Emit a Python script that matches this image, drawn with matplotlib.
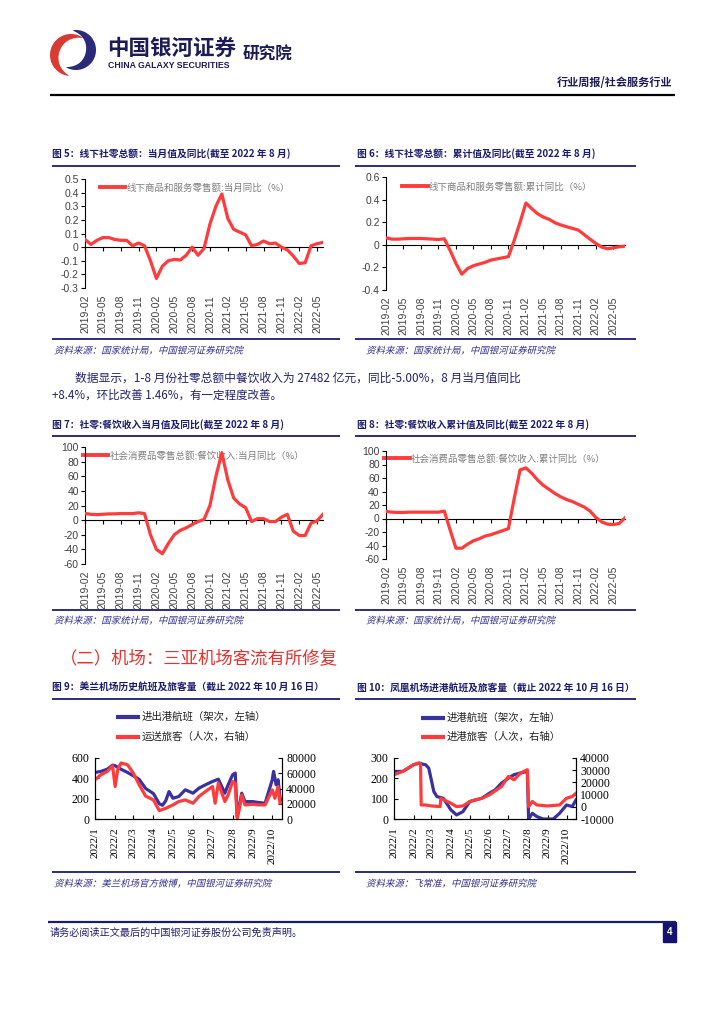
import matplotlib
matplotlib.use('Agg')
import matplotlib.pyplot as plt
import matplotlib.patches as pat
from matplotlib.textpath import TextPath
from matplotlib.font_manager import FontProperties
from matplotlib.transforms import Affine2D
import numpy as np
import pandas as pd

W, H = 724, 1024
RED = '#FF3B3B'
BLUE = '#3B309F'
NAVY = '#1C1C6E'
CAP_COLOR = '#2E2E8C'
GRAY = '#7F7F7F'
SANS = ['Liberation Sans', 'Noto Sans CJK SC']
SERIF = ['Liberation Serif', 'Noto Sans CJK SC']
CJK = ['Noto Sans CJK SC', 'DejaVu Sans']

plt.rcParams['font.family'] = SANS
plt.rcParams['axes.unicode_minus'] = False

# ---------------- data ----------------
# fig 5 / 7: monthly categories 2019-02 .. 2022-06, fig 6 / 8 one month longer
months_a = list(pd.period_range('2019-02', periods=41, freq='M').strftime('%Y-%m'))
months_b = list(pd.period_range('2019-02', periods=42, freq='M').strftime('%Y-%m'))

offline_month = [0.056, 0.02, 0.05, 0.07, 0.07, 0.056, 0.05, 0.05, 0.01, 0.03, 0.01,
                 -0.1, -0.23, -0.14, -0.1, -0.09, -0.095, -0.06, 0.0, -0.06, -0.01,
                 0.17, 0.3, 0.39, 0.21, 0.13, 0.11, 0.09, 0.01, 0.02, 0.045, 0.025,
                 0.03, 0.0, -0.02, -0.065, -0.12, -0.115, 0.01, 0.025, 0.035]
offline_cum = [0.062, 0.05, 0.05, 0.053, 0.056, 0.056, 0.056, 0.053, 0.05, 0.047, 0.053,
               -0.05, -0.165, -0.26, -0.21, -0.185, -0.17, -0.155, -0.135, -0.125, -0.115,
               -0.105, 0.04, 0.2, 0.37, 0.32, 0.275, 0.245, 0.225, 0.195, 0.175, 0.16,
               0.145, 0.13, 0.09, 0.05, 0.012, -0.02, -0.035, -0.027, -0.018, -0.012]
catering_month = [9, 8, 7.5, 8, 8.5, 8.6, 9, 9, 9, 10, 9, -20, -40, -46, -32, -20, -14,
                  -10.5, -6, -2, 1, 20, 60, 92, 55, 30, 22, 17, -2, 2, 2, -2, -2, 4, 8,
                  -15, -21, -21, -4, -1, 8]
catering_cum = [10.4, 9.4, 9, 9, 9.4, 9.4, 9.4, 9.4, 9.4, 9.4, 11, -17, -44, -44, -38,
                -33, -30, -26, -24, -21, -18, -15, 30, 72, 75, 67, 57, 49, 43, 37, 32,
                28, 25, 21, 17, 11, 1.5, -5, -8.4, -9, -7.4, 1]

# fig 9: Meilan airport
meilan_flight_dates = ['2022-01-01', '2022-01-10', '2022-01-20', '2022-01-28', '2022-02-01',
                       '2022-02-10', '2022-02-20', '2022-03-01', '2022-03-10', '2022-03-20',
                       '2022-04-01', '2022-04-10', '2022-04-15', '2022-04-20', '2022-04-25',
                       '2022-05-01', '2022-05-10', '2022-05-20', '2022-06-01', '2022-06-10',
                       '2022-06-20', '2022-07-01', '2022-07-10', '2022-07-20', '2022-07-25',
                       '2022-08-01', '2022-08-05', '2022-08-08', '2022-08-15', '2022-08-20',
                       '2022-09-01', '2022-09-10', '2022-09-20', '2022-10-01', '2022-10-03',
                       '2022-10-07', '2022-10-10', '2022-10-13', '2022-10-16']
meilan_flights = [458, 468, 490, 530, 524, 490, 458, 425, 390, 300, 250, 150, 135, 180, 270,
                  204, 221, 287, 254, 303, 336, 369, 392, 254, 336, 435, 452, 23, 254, 171,
                  171, 162, 155, 386, 468, 336, 386, 204, 188]
meilan_pax_dates = ['2022-01-01', '2022-01-10', '2022-01-20', '2022-01-28', '2022-02-01',
                    '2022-02-05', '2022-02-10', '2022-02-20', '2022-03-01', '2022-03-10',
                    '2022-03-20', '2022-04-01', '2022-04-10', '2022-04-20', '2022-05-01',
                    '2022-05-10', '2022-05-20', '2022-06-01', '2022-06-10', '2022-06-20',
                    '2022-07-01', '2022-07-05', '2022-07-10', '2022-07-20', '2022-07-25',
                    '2022-08-01', '2022-08-05', '2022-08-08', '2022-08-12', '2022-08-15',
                    '2022-08-20', '2022-09-01', '2022-09-10', '2022-09-20', '2022-10-01',
                    '2022-10-05', '2022-10-10', '2022-10-13', '2022-10-16']
meilan_pax = [51400, 58000, 62400, 69900, 42600, 64600, 73400, 71200, 60200, 45000, 30000,
              25000, 11000, 14000, 18500, 22900, 25000, 20700, 29500, 36000, 42600, 20700,
              47000, 22900, 31600, 49200, 47000, 0, 16300, 31600, 18500, 19300, 18500,
              18500, 38200, 27200, 42600, 20700, 21500]

# fig 10: Phoenix airport
fh_flight_dates = ['2022-01-01', '2022-01-15', '2022-02-01', '2022-02-10', '2022-02-15',
                   '2022-02-20', '2022-02-25', '2022-03-01', '2022-03-05', '2022-03-10',
                   '2022-03-20', '2022-04-01', '2022-04-10', '2022-04-20', '2022-05-01',
                   '2022-05-10', '2022-05-20', '2022-06-01', '2022-06-10', '2022-06-20',
                   '2022-07-01', '2022-07-10', '2022-07-20', '2022-07-31', '2022-08-02',
                   '2022-08-08', '2022-08-15', '2022-08-25', '2022-09-01', '2022-09-10',
                   '2022-09-20', '2022-10-01', '2022-10-10', '2022-10-16']
fh_flights = [234, 234, 267, 275, 270, 267, 250, 193, 135, 110, 102, 45, 20, 36, 86, 94,
              102, 127, 143, 176, 201, 218, 226, 234, 0, 28, 12, 0, 0, 0, 28, 69, 61, 94]
fh_pax_dates = ['2022-01-01', '2022-01-15', '2022-02-01', '2022-02-10', '2022-02-12',
                '2022-02-13', '2022-02-20', '2022-03-01', '2022-03-15', '2022-03-16',
                '2022-04-01', '2022-04-10', '2022-04-20', '2022-05-01', '2022-05-20',
                '2022-06-01', '2022-06-20', '2022-07-01', '2022-07-10', '2022-07-20',
                '2022-07-31', '2022-08-02', '2022-08-08', '2022-08-15', '2022-09-01',
                '2022-09-20', '2022-10-01', '2022-10-10', '2022-10-16']
fh_pax = [26300, 29000, 34500, 35900, 35000, 1500, 1500, 700, 170, 7000, 2900, 170, 700,
          4300, 7000, 9800, 16600, 24900, 22100, 27600, 30400, 170, 4300, 1500, 700, 1500,
          7000, 8400, 11100]

month_ticks = pd.date_range('2022-01-01', '2022-10-01', freq='MS')
month_labels = ['2022/%d' % m for m in range(1, 11)]

# ---------------- page ----------------
fig = plt.figure(figsize=(W / 100, H / 100), dpi=100)
bg = fig.add_axes([0, 0, 1, 1])
bg.set_xlim(0, W)
bg.set_ylim(H, 0)
bg.axis('off')


def box(x0, y0, x1, y1):
    return [x0 / W, 1 - y1 / H, (x1 - x0) / W, (y1 - y0) / H]


def rule(y, x0, x1, color=NAVY, lw=1.3):
    bg.plot([x0, x1], [y, y], color=color, lw=lw, solid_capstyle='butt')


def txt(x, y, s, size, **kw):
    kw.setdefault('va', 'center')
    kw.setdefault('family', CJK)
    bg.text(x, y, s, fontsize=size, **kw)


def italic_txt(x, y, s, size, color):
    # CJK font has no italic face, so slant the outline by hand
    px = size * 100 / 72
    path = TextPath((0, 0), s, size=px, prop=FontProperties(family='Noto Sans CJK SC'))
    tr = Affine2D().skew_deg(14, 0).scale(1, -1).translate(x, y + 0.38 * px)
    bg.add_patch(pat.PathPatch(path, facecolor=color, lw=0, transform=tr + bg.transData))


def crescent(cx, cy, r, a0, a1, thick, color):
    th = np.radians(np.linspace(a0, a1, 80))
    taper = np.sin(np.linspace(0, np.pi, 80)) ** 0.8
    outer = np.c_[cx + r * np.cos(th), cy - r * np.sin(th)]
    ri = r - thick * taper
    inner = np.c_[cx + ri * np.cos(th), cy - ri * np.sin(th)][::-1]
    bg.add_patch(pat.Polygon(np.r_[outer, inner], closed=True, color=color, lw=0))


# header
crescent(71, 55, 21, 55, 265, 9, '#D93A32')
crescent(76, 50, 20, 100, -120, 10, '#2B2A7A')
txt(107, 48, '中国银河证券', 15.5, weight='bold', color='#1D1B55')
txt(108, 66, 'CHINA GALAXY SECURITIES', 6.3, weight='bold', color='#1D1B55', family=SANS)
txt(243, 55, '研究院', 12, weight='bold', color='#1D1B55')
txt(672, 82, '行业周报/社会服务行业', 8, weight='bold', color='#1D1B55', ha='right')
rule(95, 50, 675, color='black', lw=1.6)

# chart frames
titles = [
    (52, 154, '图 5：线下社零总额：当月值及同比(截至 2022 年 8 月)'),
    (357, 154, '图 6：线下社零总额：累计值及同比(截至 2022 年 8 月)'),
    (52, 425, '图 7：社零:餐饮收入当月值及同比(截至 2022 年 8 月)'),
    (357, 425, '图 8：社零:餐饮收入累计值及同比(截至 2022 年 8 月)'),
    (52, 688, '图 9：美兰机场历史航班及旅客量（截止 2022 年 10 月 16 日）'),
    (357, 688, '图 10：凤凰机场进港航班及旅客量（截止 2022 年 10 月 16 日）'),
]
for x, y, s in titles:
    txt(x, y, s, 7, weight='bold', color=NAVY)
for y in (166, 339, 436, 610, 699, 872):
    rule(y, 52, 340)
    rule(y, 355, 636)
captions = [
    (54, 350, '资料来源：国家统计局，中国银河证券研究院'),
    (366, 350, '资料来源：国家统计局，中国银河证券研究院'),
    (54, 620, '资料来源：国家统计局，中国银河证券研究院'),
    (366, 620, '资料来源：国家统计局，中国银河证券研究院'),
    (54, 883, '资料来源：美兰机场官方微博，中国银河证券研究院'),
    (366, 883, '资料来源：飞常准，中国银河证券研究院'),
]
for x, y, s in captions:
    italic_txt(x, y, s, 6.8, CAP_COLOR)

# paragraph + section heading
txt(75, 378, '数据显示，1-8 月份社零总额中餐饮收入为 27482 亿元，同比-5.00%，8 月当月值同比',
    8.5, color='#22226E')
txt(52, 395, '+8.4%，环比改善 1.46%，有一定程度改善。', 8.3, color='#22226E')
txt(60, 658, '（二）机场：三亚机场客流有所修复', 12.5, color='#E8302C')

# footer
rule(922, 48, 676, color='#1C1C6E', lw=1.6)
txt(50, 933, '请务必阅读正文最后的中国银河证券股份公司免责声明。', 7.3, color='#22226E')
bg.add_patch(pat.Rectangle((663, 922), 13, 20, color='#14126E'))
txt(669.5, 932, '4', 7, color='white', weight='bold', ha='center', family=SANS)


def month_chart(rect, months, values, ylim, yticks, ylabels, legend, anchor):
    ax = fig.add_axes(box(*rect))
    ax.patch.set_alpha(0)
    x = range(len(values))
    ax.plot(x, values, color=RED, lw=2.3, solid_joinstyle='round', zorder=3)
    ax.set_xlim(0, len(values) - 1)
    ax.set_ylim(*ylim)
    ax.set_yticks(yticks, ylabels)
    for s in ('top', 'right'):
        ax.spines[s].set_visible(False)
    ax.spines['bottom'].set_position(('data', 0))
    ticks = list(range(0, len(values), 3))
    ax.set_xticks(ticks)
    ax.tick_params(axis='x', labelbottom=False, length=3, direction='out')
    ax.tick_params(axis='y', length=3, labelsize=7.5, labelcolor='#404040', pad=1.5)
    sec = ax.secondary_xaxis('bottom')
    sec.set_xticks(ticks, [months[i] for i in ticks])
    sec.tick_params(length=0, labelrotation=90, labelsize=7.5, labelcolor='#404040', pad=5)
    sec.spines['bottom'].set_visible(False)
    leg = ax.legend([plt.Line2D([], [], color=RED, lw=2.8)], [legend], loc='upper left',
                    bbox_to_anchor=anchor, frameon=False, handlelength=2.7,
                    handletextpad=0.15, borderaxespad=0, borderpad=0, labelcolor=GRAY,
                    prop={'family': CJK, 'size': 6.8})
    leg.set_zorder(1)
    return ax


month_chart((85, 179, 323, 288), months_a, offline_month, (-0.3, 0.5),
            [-0.3, -0.2, -0.1, 0, 0.1, 0.2, 0.3, 0.4, 0.5],
            ['-0.3', '-0.2', '-0.1', '0', '0.1', '0.2', '0.3', '0.4', '0.5'],
            '线下商品和服务零售额:当月同比（%）', (0.063, 0.965))
month_chart((386, 177, 625, 290), months_b, offline_cum, (-0.4, 0.6),
            [-0.4, -0.2, 0, 0.2, 0.4, 0.6],
            ['-0.4', '-0.2', '0', '0.2', '0.4', '0.6'],
            '线下商品和服务零售额:累计同比（%）', (0.067, 0.958))
month_chart((85, 447, 323, 564), months_a, catering_month, (-60, 100),
            list(range(-60, 101, 20)), [str(v) for v in range(-60, 101, 20)],
            '社会消费品零售总额:餐饮收入:当月同比（%）', (-0.01, 0.968))
month_chart((386, 451, 625, 559), months_b, catering_cum, (-60, 100),
            list(range(-60, 101, 20)), [str(v) for v in range(-60, 101, 20)],
            '社会消费品零售总额:餐饮收入:累计同比（%）', (-0.008, 0.972))


def airport_chart(rect, f_dates, f_vals, p_dates, p_vals, lim1, t1, lim2, t2,
                  labels, lx, ly):
    ax = fig.add_axes(box(*rect))
    ax.patch.set_alpha(0)
    ax.plot(pd.to_datetime(f_dates), f_vals, color=BLUE, lw=2.3, solid_joinstyle='round')
    ax.set_ylim(*lim1)
    ax.set_yticks(t1)
    ax.set_xlim(pd.Timestamp('2022-01-01'), pd.Timestamp('2022-10-16'))
    ax.set_xticks(month_ticks, month_labels)
    ax.spines['top'].set_visible(False)
    ax.tick_params(axis='x', labelrotation=90, labelsize=8, direction='in', length=3, pad=6,
                   labelfontfamily=SERIF)
    ax.tick_params(axis='y', labelsize=8.5, direction='in', length=3, pad=4,
                   labelfontfamily=SERIF)
    ax2 = ax.twinx()
    ax2.plot(pd.to_datetime(p_dates), p_vals, color=RED, lw=2.3, solid_joinstyle='round')
    ax2.set_ylim(*lim2)
    ax2.set_yticks(t2)
    ax2.spines['top'].set_visible(False)
    ax2.tick_params(axis='y', labelsize=8.5, direction='in', length=3, pad=3,
                    labelfontfamily=SERIF)
    # legend above plot
    for (y, color, s) in zip(ly, (BLUE, RED), labels):
        bg.plot([lx, lx + 24], [y, y], color=color, lw=3, solid_capstyle='butt')
        txt(lx + 26, y, s, 7.5, color='#222222')


airport_chart((95, 758, 282, 819), meilan_flight_dates, meilan_flights,
              meilan_pax_dates, meilan_pax, (0, 600), [0, 200, 400, 600],
              (0, 80000), [0, 20000, 40000, 60000, 80000],
              ['进出港航班（架次，左轴）', '运送旅客（人次，右轴）'], 116, (717, 737))
airport_chart((394, 758, 576, 819), fh_flight_dates, fh_flights,
              fh_pax_dates, fh_pax, (0, 300), [0, 100, 200, 300],
              (-10000, 40000), [-10000, 0, 10000, 20000, 30000, 40000],
              ['进港航班（架次，左轴）', '进港旅客（人次，右轴）'], 421, (718, 737))

fig.savefig('out.png', dpi=100)
